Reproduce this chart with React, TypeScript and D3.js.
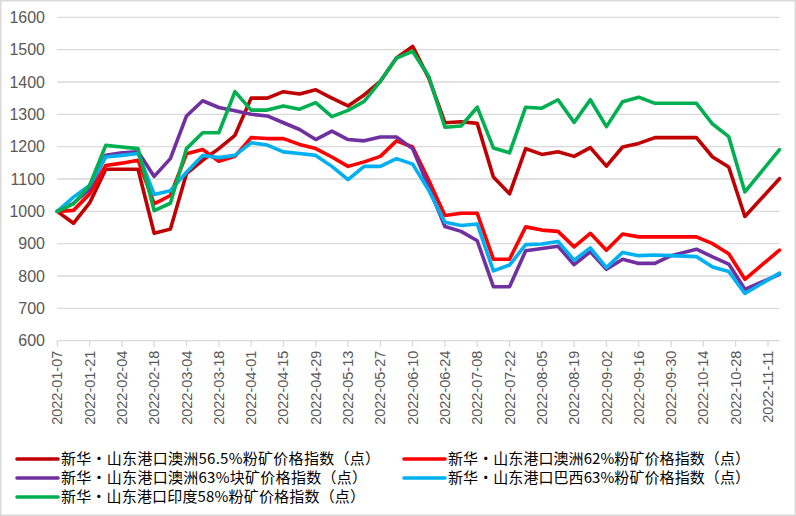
import React from "react";
import * as d3 from "d3";

const dates: string[] = [
  "2022-01-07", "2022-01-14", "2022-01-21", "2022-01-28", "2022-02-04", "2022-02-11", "2022-02-18", "2022-02-25",
  "2022-03-04", "2022-03-11", "2022-03-18", "2022-03-25", "2022-04-01", "2022-04-08", "2022-04-15", "2022-04-22",
  "2022-04-29", "2022-05-06", "2022-05-13", "2022-05-20", "2022-05-27", "2022-06-03", "2022-06-10", "2022-06-17",
  "2022-06-24", "2022-07-01", "2022-07-08", "2022-07-15", "2022-07-22", "2022-07-29", "2022-08-05", "2022-08-12",
  "2022-08-19", "2022-08-26", "2022-09-02", "2022-09-09", "2022-09-16", "2022-09-23", "2022-09-30", "2022-10-11",
  "2022-10-18", "2022-10-25", "2022-11-01", "2022-11-16",
];

const tickLabels: string[] = [
  "2022-01-07", "2022-01-21", "2022-02-04", "2022-02-18", "2022-03-04", "2022-03-18", "2022-04-01", "2022-04-15",
  "2022-04-29", "2022-05-13", "2022-05-27", "2022-06-10", "2022-06-24", "2022-07-08", "2022-07-22", "2022-08-05",
  "2022-08-19", "2022-09-02", "2022-09-16", "2022-09-30", "2022-10-14", "2022-10-28", "2022-11-11",
];

const yTicks: number[] = [600, 700, 800, 900, 1000, 1100, 1200, 1300, 1400, 1500, 1600];

const au565: number[] = [
  1000, 963, 1026, 1130, 1130, 1130, 932, 945, 1117, 1158, 1194, 1235, 1350, 1350, 1370, 1363, 1376, 1350, 1326, 1360, 1402, 1474, 1510,
  1412, 1274, 1277, 1272, 1106, 1054, 1194, 1176, 1184, 1170, 1197, 1140, 1199, 1210, 1228, 1228,
  1228, 1168, 1137, 984, 1101,
];
const au62: number[] = [
  1000, 1003, 1054, 1142, 1149, 1158, 1023, 1049, 1178, 1191, 1155, 1170, 1228, 1225, 1225, 1207, 1194, 1168, 1139, 1153, 1170, 1218, 1199,
  1096, 987, 994, 994, 852, 852, 952, 942, 938, 890, 932, 880, 930, 921, 921, 921,
  921, 900, 869, 790, 880,
];
const auLump63: number[] = [
  1000, 1025, 1069, 1173, 1181, 1184, 1108, 1163, 1295, 1342, 1321, 1311, 1300, 1295, 1274, 1253, 1222, 1248, 1222, 1218, 1230, 1230, 1194,
  1075, 953, 938, 909, 767, 767, 878, 885, 892, 835, 875, 821, 852, 839, 839, 863,
  883, 859, 837, 759, 805,
];
const br63: number[] = [
  1000, 1044, 1080, 1168, 1173, 1179, 1052, 1064, 1121, 1173, 1166, 1173, 1212, 1205, 1184, 1179, 1173, 1139, 1098, 1139, 1139, 1163, 1146,
  1065, 966, 956, 961, 816, 834, 897, 899, 907, 849, 887, 826, 873, 863, 865, 863,
  860, 828, 814, 746, 809,
];
const in58: number[] = [
  1000, 1023, 1080, 1204, 1199, 1194, 1002, 1025, 1194, 1243, 1243, 1370, 1313, 1313, 1326, 1316, 1336, 1293, 1312, 1340, 1402, 1474, 1495,
  1417, 1260, 1264, 1322, 1196, 1181, 1322, 1319, 1345, 1275, 1345, 1262, 1339, 1353, 1334, 1334,
  1334, 1270, 1231, 1060, 1191,
];

const seriesNames: string[] = [
  "新华·山东港口澳洲56.5%粉矿价格指数（点）",
  "新华·山东港口澳洲62%粉矿价格指数（点）",
  "新华·山东港口澳洲63%块矿价格指数（点）",
  "新华·山东港口巴西63%粉矿价格指数（点）",
  "新华·山东港口印度58%粉矿价格指数（点）",
];
const seriesColors: string[] = ["#C00000", "#FF0000", "#7030A0", "#00B0F0", "#00B050"];
const seriesValues: number[][] = [au565, au62, auLump63, br63, in58];

const W = 796;
const H = 516;
const left = 57.3;
const right = 779.5;
const top = 17.3;
const bottom = 340.7;

const parse = d3.timeParse("%Y-%m-%d");

// legend layout (position and rendered text width for each entry)
const legendLayout = [
  { x: 16, y: 459, w: 319 },
  { x: 403, y: 459, w: 302 },
  { x: 16, y: 478, w: 306 },
  { x: 403, y: 478, w: 302 },
  { x: 16, y: 497, w: 304 },
];

export default function App() {
  const xDates = dates.map((d) => parse(d) as Date);
  const x = d3
    .scaleTime()
    .domain(d3.extent(xDates) as [Date, Date])
    .range([left, right]);
  const y = d3.scaleLinear().domain([600, 1600]).range([bottom, top]);

  const line = d3
    .line<number>()
    .x((_, i) => x(xDates[i]))
    .y((v) => y(v));

  const tickDates = tickLabels.map((t) => parse(t) as Date);

  const numFont = "'Liberation Sans', Arial, sans-serif";
  const cjkFont = "'Noto Sans CJK SC', sans-serif";

  return (
    <svg
      width={W}
      height={H}
      style={{ position: "absolute", left: 0, top: 0, background: "#fff" }}
    >
      <rect x={0.75} y={0.75} width={W - 1.5} height={H - 1.5} fill="#fff" stroke="#D9D9D9" strokeWidth={1.5} />
      {yTicks.map((t) => (
        <g key={t}>
          <line x1={left} x2={right} y1={y(t)} y2={y(t)} stroke="#D9D9D9" strokeWidth={1.3} />
          <text
            x={45}
            y={y(t)}
            dy="0.35em"
            textAnchor="end"
            fontFamily={numFont}
            fontSize={16}
            fill="#595959"
          >
            {t}
          </text>
        </g>
      ))}
      {tickDates.map((d, i) => (
        <g key={tickLabels[i]} transform={`translate(${x(d)},${bottom})`}>
          <line y1={0} y2={6} stroke="#D9D9D9" strokeWidth={1.3} />
          <text
            transform="rotate(-90)"
            x={-10}
            y={0}
            dy="0.35em"
            textAnchor="end"
            fontFamily={numFont}
            fontSize={14.5}
            fill="#595959"
          >
            {tickLabels[i]}
          </text>
        </g>
      ))}
      {seriesValues.map((vals, s) => (
        <path
          key={s}
          d={line(vals) || ""}
          fill="none"
          stroke={seriesColors[s]}
          strokeWidth={3.6}
          strokeLinejoin="round"
          strokeLinecap="round"
        />
      ))}
      {seriesNames.map((name, s) => (
        <g key={name} transform={`translate(${legendLayout[s].x},${legendLayout[s].y})`}>
          <line x1={1} x2={42} y1={0} y2={0} stroke={seriesColors[s]} strokeWidth={3.6} strokeLinecap="round" />
          <text
            x={45}
            y={0}
            dy="0.36em"
            fontFamily={cjkFont}
            fontSize={15}
            fill="#000"
            textLength={legendLayout[s].w}
            lengthAdjust="spacing"
          >
            {name}
          </text>
        </g>
      ))}
    </svg>
  );
}
